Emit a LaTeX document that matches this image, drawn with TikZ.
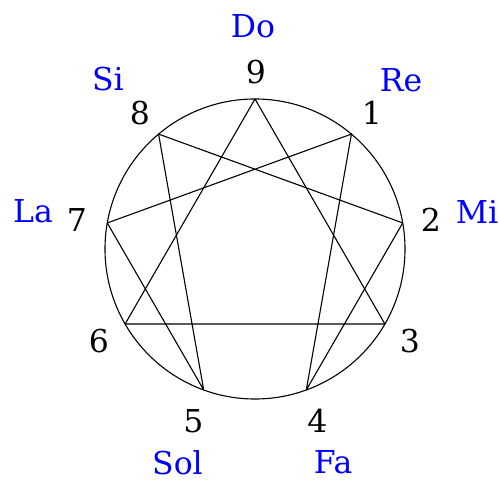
\documentclass[tikz,border=0pt]{standalone}
\usepackage{fontspec}
\setmainfont{DejaVu Serif}
\begin{document}
\begin{tikzpicture}[
  x=1bp, y=1bp,
  chord/.style={draw, line width=1.1bp, line join=round},
  num/.style={inner sep=0pt, font=\fontsize{31.5bp}{36bp}\selectfont, text=black},
  tone/.style={inner sep=0pt, font=\fontsize{31.5bp}{36bp}\selectfont, text=blue}
]
\useasboundingbox (-255,-231) rectangle (244,249);

% Circle
\draw[line width=1.1bp] (0,0) circle (150);

% Points on the circle (9 at the top, then clockwise)
\foreach \n/\a in {9/90, 1/50, 2/10, 3/-30, 4/-70, 5/-110, 6/-150, 7/170, 8/130}
  \coordinate (p\n) at (\a:150);

% Triangle 9-3-6
\draw[chord] (p9) -- (p3) -- (p6) -- cycle;
% Hexad 1-4-2-8-5-7
\draw[chord] (p1) -- (p4) -- (p2) -- (p8) -- (p5) -- (p7) -- cycle;

% Numbers
\node[num] (n9) at (1,177)      {9};
\node[num] (n1) at (117,136)    {1};
\node[num] (n2) at (176,29)     {2};
\node[num] (n3) at (155,-92.5)  {3};
\node[num] (n4) at (62.5,-172)  {4};
\node[num] (n5) at (-61.5,-172) {5};
\node[num] (n6) at (-156,-92.5) {6};
\node[num] (n7) at (-178,29)    {7};
\node[num] (n8) at (-115,136)   {8};

% Tones
\node[tone] (do)  at (-2,223)     {Do};
\node[tone] (re)  at (146,169)    {Re};
\node[tone] (mi)  at (222,37.5)   {Mi};
\node[tone] (fa)  at (78,-213.5)  {Fa};
\node[tone] (sol) at (-77.5,-213.5) {Sol};
\node[tone] (la)  at (-222,37.5)  {La};
\node[tone] (si)  at (-147,170)   {Si};

\end{tikzpicture}
\end{document}
